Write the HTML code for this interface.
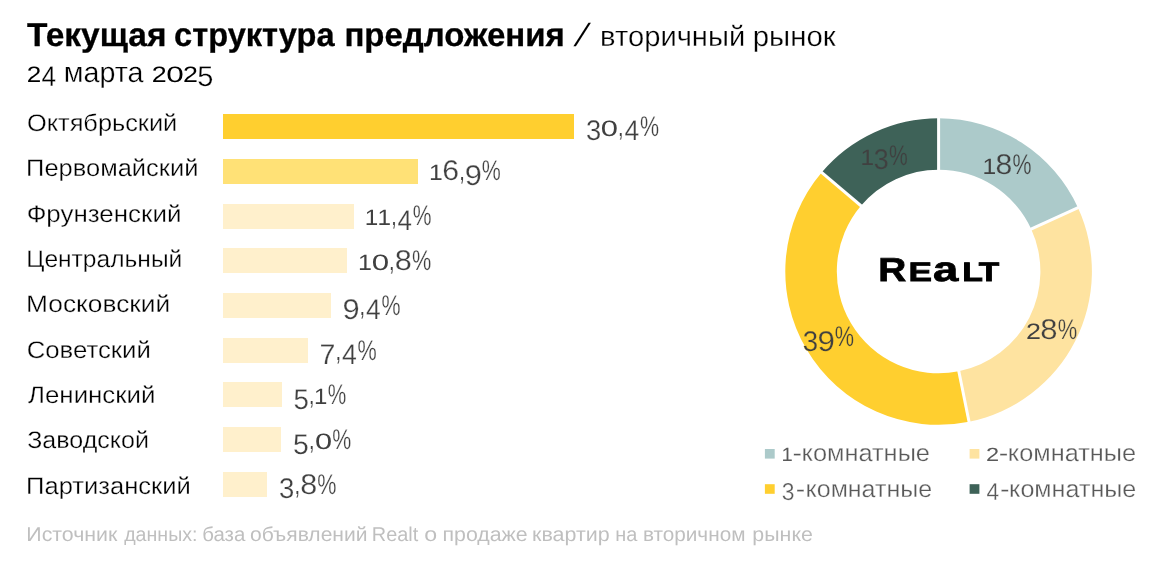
<!DOCTYPE html>
<html lang="ru"><head><meta charset="utf-8"><title>Текущая структура предложения</title>
<style>html,body{margin:0;padding:0;background:#fff}body{width:1169px;height:563px;overflow:hidden;position:relative}svg{position:absolute;left:0;top:0;display:block}</style></head><body>
<svg width="1169" height="563" viewBox="0 0 1169 563" font-family='"Liberation Sans", sans-serif' text-rendering="geometricPrecision">
<rect width="1169" height="563" fill="#fff"/>
<g>
<rect x="223" y="114" width="351" height="25" fill="#FFCF2F"/>
<rect x="223" y="159" width="195" height="25" fill="#FFE176"/>
<rect x="223" y="204" width="131" height="25" fill="#FFF0CC"/>
<rect x="223" y="248" width="124" height="25" fill="#FFF0CC"/>
<rect x="223" y="293" width="108" height="25" fill="#FFF0CC"/>
<rect x="223" y="338" width="85" height="25" fill="#FFF0CC"/>
<rect x="223" y="382" width="59" height="25" fill="#FFF0CC"/>
<rect x="223" y="427" width="58" height="25" fill="#FFF0CC"/>
<rect x="223" y="472" width="44" height="25" fill="#FFF0CC"/>
</g>
<g>
<path d="M938.60 118.20A153.3 153.3 0 0 1 1077.99 207.68L1031.16 229.12A101.8 101.8 0 0 0 938.60 169.70Z" fill="#ACCACA"/>
<path d="M1077.99 207.68A153.3 153.3 0 0 1 969.03 421.75L958.81 371.27A101.8 101.8 0 0 0 1031.16 229.12Z" fill="#FEE3A0"/>
<path d="M969.03 421.75A153.3 153.3 0 0 1 821.63 172.41L860.93 205.70A101.8 101.8 0 0 0 958.81 371.27Z" fill="#FFCF2F"/>
<path d="M821.63 172.41A153.3 153.3 0 0 1 938.60 118.20L938.60 169.70A101.8 101.8 0 0 0 860.93 205.70Z" fill="#3E6258"/>
</g>
<g stroke="#fff" stroke-width="3">
<line x1="938.60" y1="171.70" x2="938.60" y2="116.20"/>
<line x1="1029.34" y1="229.96" x2="1079.80" y2="206.85"/>
<line x1="958.41" y1="369.31" x2="969.43" y2="423.71"/>
<line x1="862.45" y1="206.99" x2="820.11" y2="171.12"/>
</g>
<rect x="764.9" y="449" width="9.8" height="9.6" fill="#ACCACA"/>
<rect x="969.6" y="449" width="9.8" height="9.6" fill="#FEE3A0"/>
<rect x="764.9" y="484.2" width="9.8" height="9.6" fill="#FFCF2F"/>
<rect x="969.6" y="484.2" width="9.8" height="9.6" fill="#3E6258"/>
<text id="title" y="45.80" font-weight="bold" fill="#000" stroke="#000" stroke-width="0.3" xml:space="preserve"><tspan x="27.00" font-size="33" textLength="139.48" lengthAdjust="spacingAndGlyphs">Текущая</tspan><tspan font-size="33"> </tspan><tspan x="174.12" font-size="33" textLength="160.42" lengthAdjust="spacingAndGlyphs">структура</tspan><tspan font-size="33"> </tspan><tspan x="344.40" font-size="33" textLength="220.44" lengthAdjust="spacingAndGlyphs">предложения</tspan></text>
<text id="slash" transform="translate(573.4,45.9) skewX(-20.2)" font-size="32" fill="#000">/</text>
<text id="title2" y="45.90" font-weight="normal" fill="#000" stroke="#fff" stroke-width="0.3" xml:space="preserve"><tspan x="600.11" font-size="28.5" textLength="145.11" lengthAdjust="spacingAndGlyphs">вторичный</tspan><tspan font-size="28.5"> </tspan><tspan x="752.80" font-size="28.5" textLength="82.81" lengthAdjust="spacingAndGlyphs">рынок</tspan></text>
<text id="logo" y="281.30" font-weight="bold" fill="#000" stroke="#000" stroke-width="0.8" xml:space="preserve"><tspan x="878.37" font-size="33.2" textLength="27.97" lengthAdjust="spacingAndGlyphs">R</tspan><tspan x="908.50" font-size="26.8" style="text-transform:uppercase" textLength="23.44" lengthAdjust="spacingAndGlyphs">e</tspan><tspan x="932.99" font-size="34.8" textLength="25.30" lengthAdjust="spacingAndGlyphs">a</tspan><tspan x="962.19" font-size="26.8" style="text-transform:uppercase" textLength="20.70" lengthAdjust="spacingAndGlyphs">l</tspan><tspan x="978.89" font-size="26.8" style="text-transform:uppercase" textLength="20.47" lengthAdjust="spacingAndGlyphs">t</tspan></text>
<text id="sub" y="82.00" font-weight="normal" fill="#000" stroke="#fff" stroke-width="0.3" xml:space="preserve"><tspan x="26.83" font-size="22.3" stroke="none" textLength="14.49" lengthAdjust="spacingAndGlyphs">2</tspan><tspan x="41.49" dy="4.40" font-size="28.5" textLength="14.57" lengthAdjust="spacingAndGlyphs">4</tspan><tspan font-size="28.5" dy="-4.40"> </tspan><tspan x="63.84" font-size="28.5" textLength="79.67" lengthAdjust="spacingAndGlyphs">марта</tspan><tspan font-size="28.5"> </tspan><tspan x="151.70" font-size="22.3" stroke="none" textLength="14.90" lengthAdjust="spacingAndGlyphs">2</tspan><tspan x="166.18" font-size="22.3" stroke="none" textLength="17.49" lengthAdjust="spacingAndGlyphs">0</tspan><tspan x="182.93" font-size="22.3" stroke="none" textLength="14.90" lengthAdjust="spacingAndGlyphs">2</tspan><tspan x="197.20" dy="4.40" font-size="28.5" textLength="16.13" lengthAdjust="spacingAndGlyphs">5</tspan></text>
<text id="lab0" y="130.80" font-weight="normal" fill="#000" stroke="#fff" stroke-width="0.3" xml:space="preserve"><tspan x="26.94" font-size="24" textLength="150.34" lengthAdjust="spacingAndGlyphs">Октябрьский</tspan></text>
<text id="lab1" y="176.16" font-weight="normal" fill="#000" stroke="#fff" stroke-width="0.3" xml:space="preserve"><tspan x="26.14" font-size="24" textLength="172.25" lengthAdjust="spacingAndGlyphs">Первомайский</tspan></text>
<text id="lab2" y="221.52" font-weight="normal" fill="#000" stroke="#fff" stroke-width="0.3" xml:space="preserve"><tspan x="26.65" font-size="24" textLength="154.75" lengthAdjust="spacingAndGlyphs">Фрунзенский</tspan></text>
<text id="lab3" y="266.88" font-weight="normal" fill="#000" stroke="#fff" stroke-width="0.3" xml:space="preserve"><tspan x="26.21" font-size="24" textLength="156.10" lengthAdjust="spacingAndGlyphs">Центральный</tspan></text>
<text id="lab4" y="312.24" font-weight="normal" fill="#000" stroke="#fff" stroke-width="0.3" xml:space="preserve"><tspan x="26.08" font-size="24" textLength="144.09" lengthAdjust="spacingAndGlyphs">Московский</tspan></text>
<text id="lab5" y="357.60" font-weight="normal" fill="#000" stroke="#fff" stroke-width="0.3" xml:space="preserve"><tspan x="26.66" font-size="24" textLength="124.25" lengthAdjust="spacingAndGlyphs">Советский</tspan></text>
<text id="lab6" y="402.96" font-weight="normal" fill="#000" stroke="#fff" stroke-width="0.3" xml:space="preserve"><tspan x="28.00" font-size="24" textLength="127.50" lengthAdjust="spacingAndGlyphs">Ленинский</tspan></text>
<text id="lab7" y="448.32" font-weight="normal" fill="#000" stroke="#fff" stroke-width="0.3" xml:space="preserve"><tspan x="27.22" font-size="24" textLength="121.73" lengthAdjust="spacingAndGlyphs">Заводской</tspan></text>
<text id="lab8" y="493.68" font-weight="normal" fill="#000" stroke="#fff" stroke-width="0.3" xml:space="preserve"><tspan x="26.14" font-size="24" textLength="164.64" lengthAdjust="spacingAndGlyphs">Партизанский</tspan></text>
<text id="val0" y="135.60" font-weight="normal" fill="#404040" stroke="#fff" stroke-width="0.25" xml:space="preserve"><tspan x="585.94" dy="4.40" font-size="28.5" textLength="15.23" lengthAdjust="spacingAndGlyphs">3</tspan><tspan x="600.76" dy="-4.40" font-size="22.3" stroke="none" textLength="17.20" lengthAdjust="spacingAndGlyphs">0</tspan><tspan x="617.78" font-size="28.5" textLength="6.07" lengthAdjust="spacingAndGlyphs">,</tspan><tspan x="624.54" dy="4.40" font-size="28.5" textLength="14.73" lengthAdjust="spacingAndGlyphs">4</tspan><tspan x="640.05" dy="-4.40" font-size="28.5" textLength="19.09" lengthAdjust="spacingAndGlyphs">%</tspan></text>
<text id="val1" y="180.40" font-weight="normal" fill="#404040" stroke="#fff" stroke-width="0.25" xml:space="preserve"><tspan x="429.14" font-size="22.3" stroke="none" textLength="13.71" lengthAdjust="spacingAndGlyphs">1</tspan><tspan x="442.22" font-size="28.5" textLength="16.84" lengthAdjust="spacingAndGlyphs">6</tspan><tspan x="458.96" font-size="28.5" textLength="6.05" lengthAdjust="spacingAndGlyphs">,</tspan><tspan x="464.79" dy="4.40" font-size="28.5" textLength="17.16" lengthAdjust="spacingAndGlyphs">9</tspan><tspan x="481.83" dy="-4.40" font-size="28.5" textLength="19.01" lengthAdjust="spacingAndGlyphs">%</tspan></text>
<text id="val2" y="225.20" font-weight="normal" fill="#404040" stroke="#fff" stroke-width="0.25" xml:space="preserve"><tspan x="364.87" font-size="22.3" stroke="none" textLength="13.50" lengthAdjust="spacingAndGlyphs">1</tspan><tspan x="377.41" font-size="22.3" stroke="none" textLength="13.50" lengthAdjust="spacingAndGlyphs">1</tspan><tspan x="390.99" font-size="28.5" textLength="5.95" lengthAdjust="spacingAndGlyphs">,</tspan><tspan x="397.61" dy="4.40" font-size="28.5" textLength="14.44" lengthAdjust="spacingAndGlyphs">4</tspan><tspan x="412.81" dy="-4.40" font-size="28.5" textLength="18.71" lengthAdjust="spacingAndGlyphs">%</tspan></text>
<text id="val3" y="270.00" font-weight="normal" fill="#404040" stroke="#fff" stroke-width="0.25" xml:space="preserve"><tspan x="358.12" font-size="22.3" stroke="none" textLength="13.91" lengthAdjust="spacingAndGlyphs">1</tspan><tspan x="371.68" font-size="22.3" stroke="none" textLength="17.37" lengthAdjust="spacingAndGlyphs">0</tspan><tspan x="388.87" font-size="28.5" textLength="6.13" lengthAdjust="spacingAndGlyphs">,</tspan><tspan x="394.81" font-size="28.5" textLength="17.09" lengthAdjust="spacingAndGlyphs">8</tspan><tspan x="412.06" font-size="28.5" textLength="19.28" lengthAdjust="spacingAndGlyphs">%</tspan></text>
<text id="val4" y="314.80" font-weight="normal" fill="#404040" stroke="#fff" stroke-width="0.25" xml:space="preserve"><tspan x="342.55" dy="4.40" font-size="28.5" textLength="17.17" lengthAdjust="spacingAndGlyphs">9</tspan><tspan x="359.33" dy="-4.40" font-size="28.5" textLength="6.05" lengthAdjust="spacingAndGlyphs">,</tspan><tspan x="366.06" dy="4.40" font-size="28.5" textLength="14.68" lengthAdjust="spacingAndGlyphs">4</tspan><tspan x="381.51" dy="-4.40" font-size="28.5" textLength="19.02" lengthAdjust="spacingAndGlyphs">%</tspan></text>
<text id="val5" y="359.60" font-weight="normal" fill="#404040" stroke="#fff" stroke-width="0.25" xml:space="preserve"><tspan x="319.55" dy="4.40" font-size="28.5" textLength="15.91" lengthAdjust="spacingAndGlyphs">7</tspan><tspan x="335.19" dy="-4.40" font-size="28.5" textLength="6.12" lengthAdjust="spacingAndGlyphs">,</tspan><tspan x="341.99" dy="4.40" font-size="28.5" textLength="14.84" lengthAdjust="spacingAndGlyphs">4</tspan><tspan x="357.61" dy="-4.40" font-size="28.5" textLength="19.23" lengthAdjust="spacingAndGlyphs">%</tspan></text>
<text id="val6" y="404.40" font-weight="normal" fill="#404040" stroke="#fff" stroke-width="0.25" xml:space="preserve"><tspan x="293.39" dy="4.40" font-size="28.5" textLength="15.38" lengthAdjust="spacingAndGlyphs">5</tspan><tspan x="308.74" dy="-4.40" font-size="28.5" textLength="5.89" lengthAdjust="spacingAndGlyphs">,</tspan><tspan x="314.12" font-size="22.3" stroke="none" textLength="13.35" lengthAdjust="spacingAndGlyphs">1</tspan><tspan x="327.81" font-size="28.5" textLength="18.51" lengthAdjust="spacingAndGlyphs">%</tspan></text>
<text id="val7" y="449.20" font-weight="normal" fill="#404040" stroke="#fff" stroke-width="0.25" xml:space="preserve"><tspan x="293.06" dy="4.40" font-size="28.5" textLength="15.78" lengthAdjust="spacingAndGlyphs">5</tspan><tspan x="308.81" dy="-4.40" font-size="28.5" textLength="6.04" lengthAdjust="spacingAndGlyphs">,</tspan><tspan x="314.95" font-size="22.3" stroke="none" textLength="17.10" lengthAdjust="spacingAndGlyphs">0</tspan><tspan x="332.14" font-size="28.5" textLength="18.99" lengthAdjust="spacingAndGlyphs">%</tspan></text>
<text id="val8" y="494.00" font-weight="normal" fill="#404040" stroke="#fff" stroke-width="0.25" xml:space="preserve"><tspan x="278.93" dy="4.40" font-size="28.5" textLength="15.31" lengthAdjust="spacingAndGlyphs">3</tspan><tspan x="294.26" dy="-4.40" font-size="28.5" textLength="6.11" lengthAdjust="spacingAndGlyphs">,</tspan><tspan x="300.18" font-size="28.5" textLength="17.01" lengthAdjust="spacingAndGlyphs">8</tspan><tspan x="317.35" font-size="28.5" textLength="19.19" lengthAdjust="spacingAndGlyphs">%</tspan></text>
<text id="d13" y="164.50" font-weight="normal" fill="#404040" stroke="#3E6258" stroke-width="0.25" xml:space="preserve"><tspan x="860.56" font-size="22.3" stroke="none" textLength="13.53" lengthAdjust="spacingAndGlyphs">1</tspan><tspan x="873.83" dy="4.40" font-size="28.5" textLength="14.96" lengthAdjust="spacingAndGlyphs">3</tspan><tspan x="889.07" dy="-4.40" font-size="28.5" textLength="18.76" lengthAdjust="spacingAndGlyphs">%</tspan></text>
<text id="d18" y="173.80" font-weight="normal" fill="#404040" stroke="#ACCACA" stroke-width="0.25" xml:space="preserve"><tspan x="982.45" font-size="22.3" stroke="none" textLength="13.68" lengthAdjust="spacingAndGlyphs">1</tspan><tspan x="995.49" font-size="28.5" textLength="16.81" lengthAdjust="spacingAndGlyphs">8</tspan><tspan x="1012.46" font-size="28.5" textLength="18.97" lengthAdjust="spacingAndGlyphs">%</tspan></text>
<text id="d28" y="339.30" font-weight="normal" fill="#404040" stroke="#FEE3A0" stroke-width="0.25" xml:space="preserve"><tspan x="1025.99" font-size="22.3" stroke="none" textLength="14.95" lengthAdjust="spacingAndGlyphs">2</tspan><tspan x="1040.23" font-size="28.5" textLength="17.27" lengthAdjust="spacingAndGlyphs">8</tspan><tspan x="1057.66" font-size="28.5" textLength="19.48" lengthAdjust="spacingAndGlyphs">%</tspan></text>
<text id="d39" y="346.10" font-weight="normal" fill="#404040" stroke="#FFCF2F" stroke-width="0.25" xml:space="preserve"><tspan x="802.83" dy="4.40" font-size="28.5" textLength="15.38" lengthAdjust="spacingAndGlyphs">3</tspan><tspan x="817.48" font-size="28.5" textLength="17.41" lengthAdjust="spacingAndGlyphs">9</tspan><tspan x="834.76" dy="-4.40" font-size="28.5" textLength="19.28" lengthAdjust="spacingAndGlyphs">%</tspan></text>
<text id="leg1" y="460.70" font-weight="normal" fill="#595959" stroke="#fff" stroke-width="0.3" xml:space="preserve"><tspan x="781.48" font-size="19.11" stroke="none" textLength="11.27" lengthAdjust="spacingAndGlyphs">1</tspan><tspan x="792.40" font-size="24" textLength="9.60" lengthAdjust="spacingAndGlyphs">-</tspan><tspan x="801.51" font-size="24" textLength="128.49" lengthAdjust="spacingAndGlyphs">комнатные</tspan></text>
<text id="leg2" y="460.70" font-weight="normal" fill="#595959" stroke="#fff" stroke-width="0.3" xml:space="preserve"><tspan x="986.08" font-size="19.11" stroke="none" textLength="13.12" lengthAdjust="spacingAndGlyphs">2</tspan><tspan x="998.70" font-size="24" textLength="9.60" lengthAdjust="spacingAndGlyphs">-</tspan><tspan x="1007.82" font-size="24" textLength="128.29" lengthAdjust="spacingAndGlyphs">комнатные</tspan></text>
<text id="leg3" y="496.60" font-weight="normal" fill="#595959" stroke="#fff" stroke-width="0.3" xml:space="preserve"><tspan x="781.86" dy="3.77" font-size="24.43" textLength="12.77" lengthAdjust="spacingAndGlyphs">3</tspan><tspan x="795.72" dy="-3.77" font-size="24" textLength="9.47" lengthAdjust="spacingAndGlyphs">-</tspan><tspan x="805.54" font-size="24" textLength="126.55" lengthAdjust="spacingAndGlyphs">комнатные</tspan></text>
<text id="leg4" y="496.60" font-weight="normal" fill="#595959" stroke="#fff" stroke-width="0.3" xml:space="preserve"><tspan x="986.54" dy="3.77" font-size="24.43" textLength="12.62" lengthAdjust="spacingAndGlyphs">4</tspan><tspan x="1000.10" dy="-3.77" font-size="24" textLength="9.60" lengthAdjust="spacingAndGlyphs">-</tspan><tspan x="1009.13" font-size="24" textLength="127.16" lengthAdjust="spacingAndGlyphs">комнатные</tspan></text>
<text id="foot" y="540.60" font-weight="normal" fill="#BFBFBF" xml:space="preserve"><tspan x="26.30" font-size="20" textLength="91.08" lengthAdjust="spacingAndGlyphs">Источник</tspan><tspan font-size="20"> </tspan><tspan x="124.20" font-size="20" textLength="73.29" lengthAdjust="spacingAndGlyphs">данных:</tspan><tspan font-size="20"> </tspan><tspan x="202.18" font-size="20" textLength="43.06" lengthAdjust="spacingAndGlyphs">база</tspan><tspan font-size="20"> </tspan><tspan x="250.01" font-size="20" textLength="117.50" lengthAdjust="spacingAndGlyphs">объявлений</tspan><tspan font-size="20"> </tspan><tspan x="371.81" font-size="20" textLength="46.45" lengthAdjust="spacingAndGlyphs">Realt</tspan><tspan font-size="20"> </tspan><tspan x="424.33" font-size="20" textLength="12.88" lengthAdjust="spacingAndGlyphs">о</tspan><tspan font-size="20"> </tspan><tspan x="442.47" font-size="20" textLength="85.27" lengthAdjust="spacingAndGlyphs">продаже</tspan><tspan font-size="20"> </tspan><tspan x="532.06" font-size="20" textLength="77.76" lengthAdjust="spacingAndGlyphs">квартир</tspan><tspan font-size="20"> </tspan><tspan x="615.36" font-size="20" textLength="22.07" lengthAdjust="spacingAndGlyphs">на</tspan><tspan font-size="20"> </tspan><tspan x="642.90" font-size="20" textLength="102.54" lengthAdjust="spacingAndGlyphs">вторичном</tspan><tspan font-size="20"> </tspan><tspan x="752.37" font-size="20" textLength="60.49" lengthAdjust="spacingAndGlyphs">рынке</tspan></text>
</svg></body></html>
